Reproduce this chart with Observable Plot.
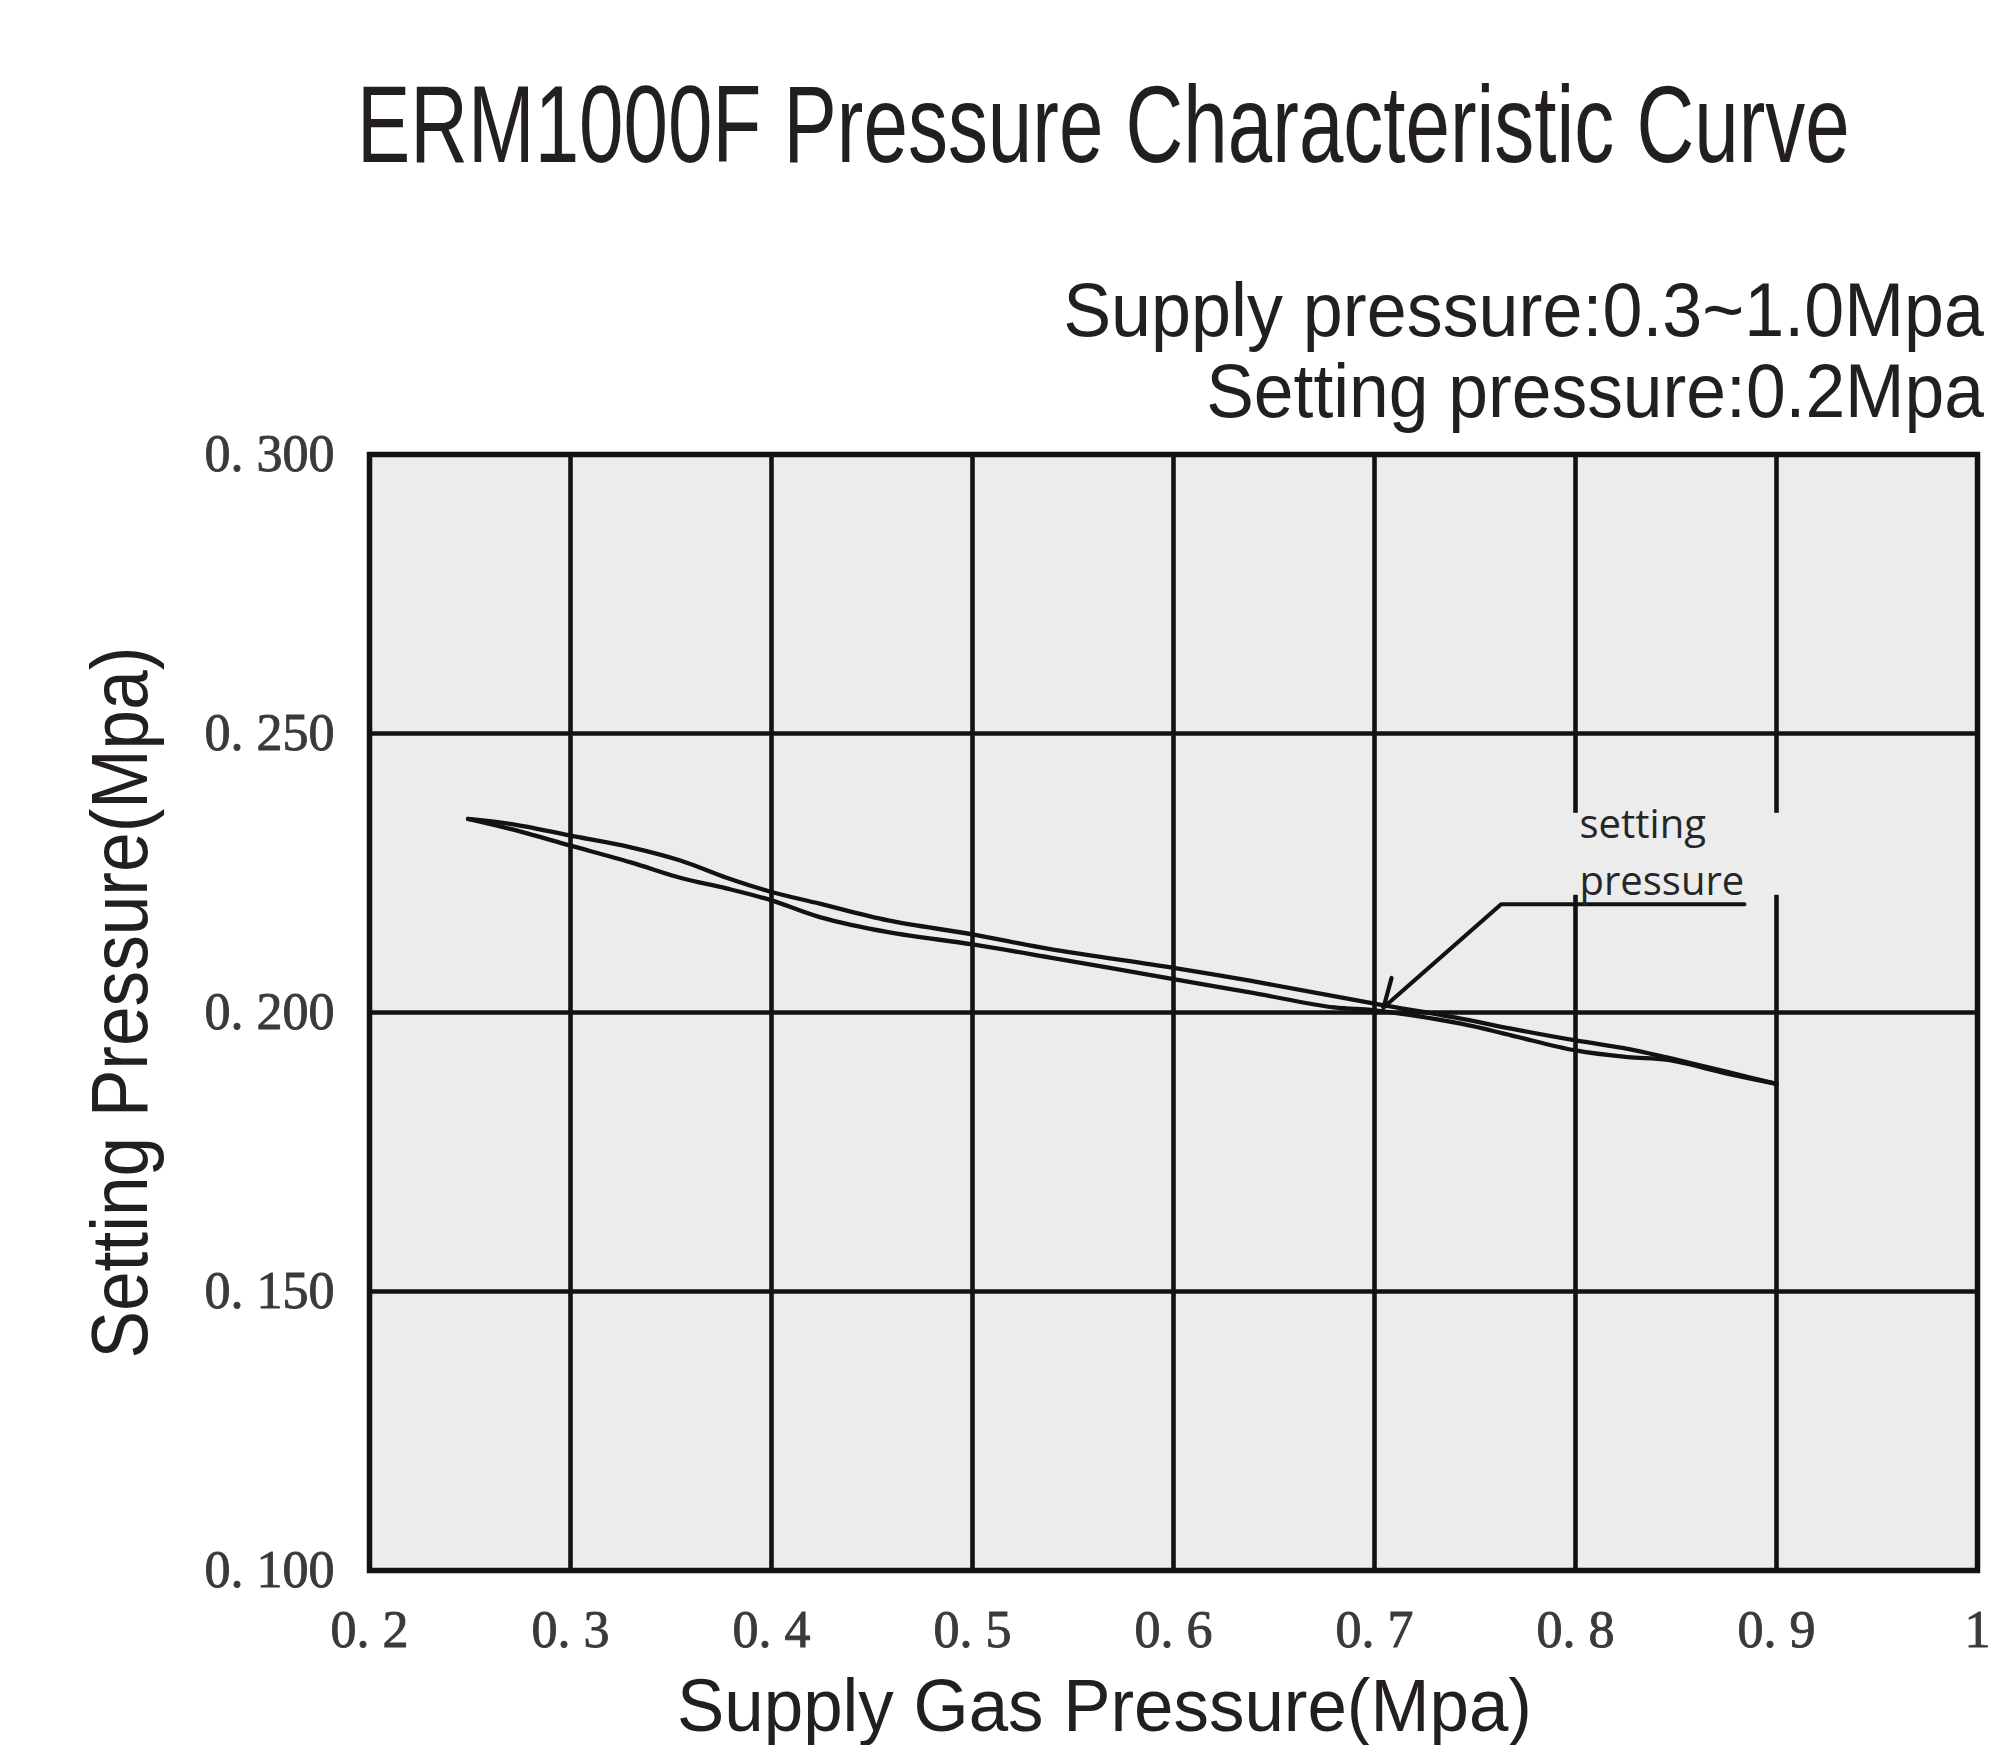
<!DOCTYPE html>
<html>
<head>
<meta charset="utf-8">
<script src="https://cdn.jsdelivr.net/npm/d3@7"></script>
<script src="https://cdn.jsdelivr.net/npm/@observablehq/plot@0.6"></script>
<style>
  html, body { margin: 0; padding: 0; background: #fff; }
  #wrap { width: 2001px; height: 1745px; position: relative; overflow: hidden; background: #fff; }
  #head { display: block; overflow: visible; position: relative; z-index: 2; }
  #chart svg { display: block; }
  #chart g[aria-label$="tick label"] text { stroke: #3a3a3a; stroke-width: 0.9px; }
</style>
</head>
<body>
<div id="wrap">
  <svg id="head" width="2001" height="414"></svg>
  <div id="chart"></div>
</div>
<script>
// ---- texts ----
const titleText = "ERM1000F Pressure Characteristic Curve";
const subtitleLines = ["Supply pressure:0.3~1.0Mpa", "Setting pressure:0.2Mpa"];
const xLabel = "Supply Gas Pressure(Mpa)";
const yLabel = "Setting Pressure(Mpa)";
const noteText = "setting\npressure";

// ---- axes ----
const xTicks = [0.2, 0.3, 0.4, 0.5, 0.6, 0.7, 0.8, 0.9, 1.0];
const yTicks = [0.100, 0.150, 0.200, 0.250, 0.300];
const xGrid = [0.3, 0.4, 0.5, 0.6, 0.7, 0.8, 0.9];
const yGrid = [0.150, 0.200, 0.250];

// ---- curves ----
const upperX = [0.249, 0.270, 0.300, 0.330, 0.355, 0.378, 0.400, 0.424, 0.458, 0.500, 0.538, 0.600, 0.638, 0.700, 0.743, 0.768, 0.800, 0.826, 0.846, 0.876, 0.900];
const upperY = [0.2347, 0.2338, 0.2317, 0.2296, 0.2272, 0.2241, 0.2216, 0.2195, 0.2165, 0.2140, 0.2114, 0.2080, 0.2057, 0.2016, 0.1989, 0.1971, 0.1950, 0.1935, 0.1919, 0.1893, 0.1872];
const lowerX = [0.249, 0.270, 0.300, 0.330, 0.355, 0.378, 0.400, 0.424, 0.458, 0.500, 0.538, 0.600, 0.638, 0.680, 0.700, 0.743, 0.768, 0.800, 0.826, 0.846, 0.876, 0.900];
const lowerY = [0.2347, 0.2329, 0.2299, 0.2269, 0.2241, 0.2222, 0.2201, 0.2171, 0.2144, 0.2122, 0.2099, 0.2060, 0.2036, 0.2009, 0.2004, 0.1980, 0.1959, 0.1932, 0.1920, 0.1915, 0.1890, 0.1872];

// ---- annotation (data space) ----
const leaderX = [0.884, 0.763, 0.7045];
const leaderY = [0.2194, 0.2194, 0.2009];
const barbX = [0.7045, 0.7085];
const barbY = [0.2009, 0.2062];
const noteBoxX = [0.798, 0.902];
const noteBoxY = [0.2210, 0.2357];
const notePos = [0.802, 0.2210];

// ---- header (condensed by horizontal scaling to the measured widths) ----
const head = d3.select("#head");
const headFont = "'Liberation Sans', Arial, sans-serif";
function condensedText(sel, x, y, size, anchor, width, str) {
  const t = sel.append("text")
    .attr("x", 0).attr("y", 0)
    .attr("font-family", headFont).attr("font-size", size)
    .attr("text-anchor", anchor)
    .attr("fill", "#231f20").text(str);
  const natural = t.node().getComputedTextLength();
  const s = width / natural;
  t.attr("transform", `translate(${x},${y}) scale(${s},1)`);
  return t;
}
condensedText(head, 357, 162, 110, "start", 1493, titleText);
condensedText(head, 1984, 336, 76, "end", 921, subtitleLines[0]);
condensedText(head, 1984, 417, 76, "end", 778, subtitleLines[1]);

// ---- data tables ----
const upper = upperX.map((x, i) => ({x, y: upperY[i]}));
const lower = lowerX.map((x, i) => ({x, y: lowerY[i]}));
const leader = leaderX.map((x, i) => ({x, y: leaderY[i]}));
const barb = barbX.map((x, i) => ({x, y: barbY[i]}));

const ink = "#121212";
const labelFont = "'Liberation Sans', Arial, sans-serif";

const fmtX = d => d === 1 ? "1" : d3.format(".1f")(d).replace(".", ". ");
const fmtY = d => d3.format(".3f")(d).replace(".", ". ");

const chart = Plot.plot({
  width: 2001,
  height: 1331,
  marginTop: 40,
  marginBottom: 175,
  marginLeft: 369,
  marginRight: 24,
  style: {fontFamily: "'Liberation Serif', 'DejaVu Serif', serif", fontSize: "52px", color: "#3a3a3a", background: "transparent"},
  x: {domain: [0.2, 1.0], ticks: xTicks, tickFormat: fmtX, label: null},
  y: {domain: [0.1, 0.3], ticks: yTicks, tickFormat: fmtY, label: null},
  marks: [
    Plot.frame({fill: "#ececec"}),
    Plot.ruleX(xGrid, {stroke: ink, strokeWidth: 4.6}),
    Plot.ruleY(yGrid, {stroke: ink, strokeWidth: 4.6}),
    Plot.rect([0], {x1: () => noteBoxX[0], x2: () => noteBoxX[1], y1: () => noteBoxY[0], y2: () => noteBoxY[1], fill: "#ececec"}),
    Plot.line(upper, {x: "x", y: "y", curve: "catmull-rom", stroke: ink, strokeWidth: 4.3, strokeLinecap: "round"}),
    Plot.line(lower, {x: "x", y: "y", curve: "catmull-rom", stroke: ink, strokeWidth: 4.3, strokeLinecap: "round"}),
    Plot.line(leader, {x: "x", y: "y", stroke: ink, strokeWidth: 4.2}),
    Plot.line(barb, {x: "x", y: "y", stroke: ink, strokeWidth: 4.2}),
    Plot.text([noteText], {x: () => notePos[0], y: () => notePos[1], text: d => d, textAnchor: "start", lineAnchor: "bottom", lineHeight: 1.425, fontSize: 40, fontFamily: "'Open Sans', 'Noto Sans', sans-serif", fill: "#262626"}),
    Plot.axisX({ticks: xTicks, tickFormat: fmtX, tickSize: 0, tickPadding: 40, label: null, fill: "#3a3a3a"}),
    Plot.axisY({ticks: yTicks, tickFormat: fmtY, tickSize: 0, tickPadding: 35, label: null, fill: "#3a3a3a"}),
    Plot.text([xLabel], {frameAnchor: "bottom", text: d => d, textAnchor: "middle", lineAnchor: "bottom", dx: -69, dy: 160, fontSize: 74, fontFamily: labelFont, fill: "#231f20"}),
    Plot.text([yLabel], {frameAnchor: "left", text: d => d, textAnchor: "middle", rotate: -90, lineAnchor: "bottom", dx: -223, dy: -10, fontSize: 80, fontFamily: labelFont, fill: "#231f20"}),
    Plot.frame({stroke: ink, strokeWidth: 5.5})
  ]
});

document.getElementById("chart").appendChild(chart);

// condense the axis titles to the widths measured on the reference
d3.select(chart).selectAll("text").each(function () {
  const t = this.textContent;
  let target = null;
  if (t === xLabel) target = 855;
  if (t === yLabel) target = 712;
  if (target) {
    const natural = this.getComputedTextLength();
    const tr = this.getAttribute("transform") || "";
    this.setAttribute("transform", `${tr} scale(${target / natural},1)`);
  }
});
</script>
</body>
</html>
